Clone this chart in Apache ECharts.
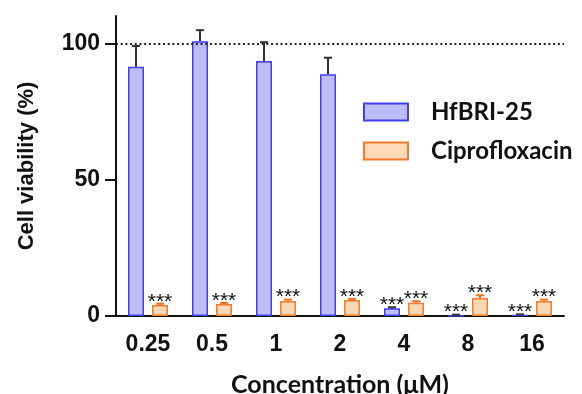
<!DOCTYPE html>
<html>
<head>
<meta charset="utf-8">
<script src="https://cdn.jsdelivr.net/npm/echarts@6/dist/echarts.min.js"></script>
<style>
html,body{margin:0;padding:0;background:#fff;}
#chart{width:582px;height:394px;}
</style>
</head>
<body>
<div id="chart"></div>
<script>
var categories = ['0.25', '0.5', '1', '2', '4', '8', '16'];
var hfbriMean = [91.4, 100.7, 93.5, 88.6, 2.8, 0.2, 0.3];
var hfbriSD   = [7.6, 4.1, 6.9, 6.1, 0.4, 0.3, 0.3];
var hfbriSig  = ['', '', '', '', '***', '***', '***'];
var ciproMean = [4.0, 4.4, 5.5, 5.9, 4.9, 6.6, 5.5];
var ciproSD   = [0.5, 0.4, 0.5, 0.3, 0.5, 1.0, 0.5];
var ciproSig  = ['***', '***', '***', '***', '***', '***', '***'];
var yTicks = [0, 50, 100];
var refLine = 100;

var chart = echarts.init(document.getElementById('chart'), null, {renderer: 'canvas'});

function errData(mean, sd, sig) {
  return mean.map(function (m, i) { return [i, m, sd[i], sig[i]]; });
}
function makeErr(name, mean, sd, sig, side, color) {
  return {
    type: 'custom',
    name: name + '_err',
    z: 5,
    silent: true,
    renderItem: function (params, api) {
      var ci = api.value(0), m = api.value(1), s = api.value(2);
      var sg = sig[params.dataIndex];
      var band = api.size([1, 0])[0];
      var off = side * band * 0.1875;
      var p0 = api.coord([ci, m]);
      var p1 = api.coord([ci, m + s]);
      var x = p0[0] + off;
      var children = [
        {type: 'line', shape: {x1: x, y1: p0[1], x2: x, y2: p1[1]}, style: {stroke: color, lineWidth: 2}},
        {type: 'line', shape: {x1: x - 4, y1: p1[1], x2: x + 4, y2: p1[1]}, style: {stroke: color, lineWidth: 2}}
      ];
      if (sg) {
        children.push({type: 'text', style: {text: sg, x: x, y: p1[1] - 2, align: 'center', verticalAlign: 'middle', fill: '#111', font: '21px "Liberation Sans", Arial, sans-serif'}});
      }
      return {type: 'group', children: children};
    },
    data: errData(mean, sd, sig)
  };
}

var option = {
  animation: false,
  backgroundColor: '#fff',
  grid: {left: 116, right: 18, top: 16, bottom: 78, outerBoundsMode: 'none', containLabel: false},
  legend: {
    left: 363, top: 100, orient: 'vertical', padding: 0,
    icon: 'rect',
    itemWidth: 44, itemHeight: 17, itemGap: 15,
    data: ['HfBRI-25', 'Ciprofloxacin'],
    textStyle: {fontFamily: 'Lato', fontWeight: 'bold', fontSize: 24, color: '#111', padding: [0, 0, 0, 18]}
  },
  xAxis: {
    type: 'category',
    data: categories,
    name: 'Concentration (\u03bcM)',
    nameLocation: 'middle',
    nameGap: 56,
    nameTextStyle: {fontFamily: 'Lato', fontWeight: 'bold', fontSize: 25, color: '#111'},
    axisLine: {lineStyle: {color: '#111', width: 2}},
    axisTick: {alignWithLabel: true, length: 11, lineStyle: {color: '#111', width: 2}},
    axisLabel: {fontFamily: '"Liberation Sans", Arial, sans-serif', fontWeight: 'bold', fontSize: 23, color: '#111', margin: 17}
  },
  yAxis: {
    type: 'value',
    min: 0, max: 110,
    name: 'Cell viability (%)',
    nameLocation: 'middle',
    nameGap: 78,
    nameTextStyle: {fontFamily: '"Liberation Sans", Arial, sans-serif', fontWeight: 'bold', fontSize: 22, color: '#111'},
    splitLine: {show: false},
    axisLine: {show: true, lineStyle: {color: '#111', width: 2}},
    axisTick: {show: true, length: 11, customValues: yTicks, lineStyle: {color: '#111', width: 2}},
    axisLabel: {customValues: yTicks, fontFamily: '"Liberation Sans", Arial, sans-serif', fontWeight: 'bold', fontSize: 23, color: '#111', margin: 16}
  },
  series: [
    {
      name: 'HfBRI-25', type: 'bar', data: hfbriMean,
      barWidth: 16, barGap: '50%',
      itemStyle: {color: '#bcbcfb', borderColor: '#3f3ff5', borderWidth: 1.5},
      markLine: {
        silent: true, symbol: 'none',
        label: {show: false},
        lineStyle: {color: '#222', width: 2.2, type: [2, 2.7]},
        data: [{yAxis: refLine}]
      }
    },
    {
      name: 'Ciprofloxacin', type: 'bar', data: ciproMean,
      barWidth: 16, barGap: '50%',
      itemStyle: {color: '#fdd9b8', borderColor: '#f67a2c', borderWidth: 1.5}
    },
    makeErr('HfBRI-25', hfbriMean, hfbriSD, hfbriSig, -1, '#333'),
    makeErr('Ciprofloxacin', ciproMean, ciproSD, ciproSig, 1, '#f06e1e')
  ]
};
chart.setOption(option);
</script>
</body>
</html>
